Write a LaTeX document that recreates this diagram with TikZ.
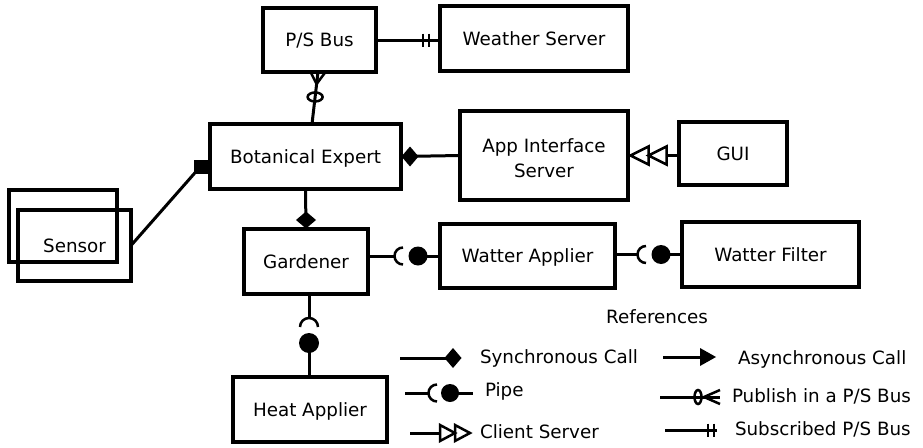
\documentclass[tikz,border=0pt]{standalone}
\usepackage{fontspec}
\setmainfont{DejaVu Sans}
\usetikzlibrary{calc}
\begin{document}
\begin{tikzpicture}[x=1pt,y=-1pt,
  box/.style={draw, line width=3.4pt, inner sep=0pt, outer sep=0pt, text height=13.4pt, text depth=0pt, font=\fontsize{18.3}{22}\selectfont},
  txt/.style={inner sep=0pt, outer sep=0pt, text height=13.4pt, text depth=0pt, font=\fontsize{18.3}{22}\selectfont},
  conn/.style={line width=3pt},
  sym/.style={line width=2.5pt},
  sdia/.pic={\fill (-8.5,0) -- (0,-10) -- (8.5,0) -- (0,10) -- cycle;},
  hollowtri/.pic={\draw[sym, fill=white] (0,0) -- (18,-9) -- (18,9) -- cycle;},
  bars/.pic={\draw[sym] (-3,-6.5) -- (-3,6.5) (3,-6.5) -- (3,6.5);}
]
\useasboundingbox (0,0) rectangle (923,447);

% ---------- boxes ----------
\node[box, minimum width=113pt, minimum height=64pt] (ps) at (319.5,40) {P/S Bus};
\node[box, minimum width=188pt, minimum height=65pt] (ws) at (534,38.5) {Weather Server};
\node[box, minimum width=191pt, minimum height=65pt] (be) at (305.5,156.5) {Botanical Expert};
\node[box, minimum width=168pt, minimum height=89pt] (ais) at (544,155.5) {};
\node[txt, anchor=base] (ais1) at (544,152) {App Interface};
\node[txt, anchor=base] (ais2) at (544,177) {Server};
\node[box, minimum width=108pt, minimum height=63pt] (gui) at (733,153.5) {GUI};
\node[box, minimum width=108pt, minimum height=72pt] (sen1) at (63,226) {};
\node[box, minimum width=113pt, minimum height=71pt] (sen2) at (74.5,245.5) {Sensor};
\node[box, minimum width=124pt, minimum height=65pt] (ga) at (306,261.5) {Gardener};
\node[box, minimum width=175pt, minimum height=64pt] (wa) at (527.5,256) {Watter Applier};
\node[box, minimum width=177pt, minimum height=65pt] (wf) at (770.5,254.5) {Watter Filter};
\node[box, minimum width=154pt, minimum height=65pt] (ha) at (310,409.5) {Heat Applier};

% ---------- P/S Bus -- Weather Server (subscribed) ----------
\coordinate (wsin) at (ps.east -| ws.west);
\draw[conn] (ps.east) -- (wsin);
\pic at ($(wsin)+(-14,0)$) {bars};

% ---------- Botanical Expert -- P/S Bus (publish) ----------
\coordinate (psb) at ($(ps.south)+(-1.5,0)$);
\coordinate (bet) at ($(be.north)+(6.5,0)$);
\draw[conn] (bet) -- (psb);
\coordinate (crow) at ($(psb)!0.23!(bet)$);
\draw[sym] ($(psb)+(-7.5,0)$) -- (crow) -- ($(psb)+(7.5,0)$);
\draw[sym] ($(psb)!0.48!(bet)$) ellipse [x radius=7.5, y radius=4.5];

% ---------- App Interface Server -- Botanical Expert (sync) ----------
\draw[conn] (ais.west) -- (be.east);
\pic at ($(be.east)+(9,0)$) {sdia};

% ---------- GUI -- App Interface Server (client/server) ----------
\coordinate (aise) at (ais.east);
\draw[conn] (gui.west |- aise) -- (aise);
\pic at ($(aise)+(2.5,0)$) {hollowtri};
\pic at ($(aise)+(20.5,0)$) {hollowtri};

% ---------- Sensor -- Botanical Expert ----------
\coordinate (sq) at ($(be.west)+(-9.5,10)$);
\draw[conn] (sen2.east) -- (sq);
\fill ($(sq)+(-7,-7)$) rectangle ($(sq)+(7,7)$);

% ---------- Botanical Expert -- Gardener (sync) ----------
\draw[conn] (be.south) -- (ga.north);
\pic[rotate=90] at ($(ga.north)+(0,-9)$) {sdia};

% ---------- Gardener -- Watter Applier (pipe) ----------
\coordinate (b1) at ($(wa.west)+(-22,0)$);
\coordinate (g1) at (ga.east |- wa.west);
\draw[conn] (g1) -- ($(b1)+(-23.5,0)$);
\draw[sym] ($(b1)+(-15,8.5)$) arc[start angle=90, end angle=270, radius=8.5];
\fill (b1) circle (9.5);
\draw[conn] (b1) -- (wa.west);

% ---------- Watter Applier -- Watter Filter (pipe) ----------
\coordinate (b2) at ($(wf.west)+(-21,0)$);
\coordinate (w1) at (wa.east |- wf.west);
\draw[conn] (w1) -- ($(b2)+(-23.5,0)$);
\draw[sym] ($(b2)+(-15,8.5)$) arc[start angle=90, end angle=270, radius=8.5];
\fill (b2) circle (9.5);
\draw[conn] (b2) -- (wf.west);

% ---------- Gardener -- Heat Applier (pipe) ----------
\coordinate (hb) at ($(ha.north)+(-1,-34)$);
\draw[conn] (hb |- ga.south) -- ($(hb)+(0,-25)$);
\draw[sym] ($(hb)+(-9,-16)$) arc[start angle=180, end angle=360, radius=9];
\fill (hb) circle (10);
\draw[conn] (hb) -- (hb |- ha.north);

% ---------- Legend ----------
\node[txt] (ref) at (657,317) {References};

\coordinate (l1a) at (400,358); \coordinate (l1b) at (453,358);
\draw[conn] (l1a) -- (l1b);
\pic at (l1b) {sdia};
\node[txt, anchor=west] (l1t) at (480,357) {Synchronous Call};

\coordinate (l2a) at (405,393); \coordinate (l2c) at (450,393); \coordinate (l2d) at (473,393);
\draw[conn] (l2a) -- ($(l2c)+(-21.5,0)$);
\draw[sym] ($(l2c)+(-13,8.5)$) arc[start angle=90, end angle=270, radius=8.5];
\fill (l2c) circle (9);
\draw[conn] (l2c) -- (l2d);
\node[txt, anchor=west] (l2t) at (485,390) {Pipe};

\coordinate (l3a) at (410,433); \coordinate (l3b) at (470,433);
\draw[conn] (l3a) -- ($(l3b)+(-30,0)$);
\draw[sym, fill=white] (l3b) -- ($(l3b)+(-15,-8)$) -- ($(l3b)+(-15,8)$) -- cycle;
\draw[sym, fill=white] ($(l3b)+(-15,0)$) -- ($(l3b)+(-30,-8)$) -- ($(l3b)+(-30,8)$) -- cycle;
\node[txt, anchor=west] (l3t) at (480,432) {Client Server};

\coordinate (r1a) at (663,357); \coordinate (r1b) at (716,357);
\draw[conn] (r1a) -- ($(r1b)+(-10,0)$);
\fill (r1b) -- ($(r1b)+(-16,-9)$) -- ($(r1b)+(-16,9)$) -- cycle;
\node[txt, anchor=west] (r1t) at (738,358) {Asynchronous Call};

\coordinate (r2a) at (660,397); \coordinate (r2b) at (720,397);
\draw[conn] (r2a) -- (r2b);
\draw[sym] ($(r2b)+(0,-7)$) -- ($(r2b)+(-16,0)$) -- ($(r2b)+(0,7)$);
\draw[sym] ($(r2b)+(-22,0)$) ellipse [x radius=3.5, y radius=7];
\node[txt, anchor=west] (r2t) at (732,396) {Publish in a P/S Bus};

\coordinate (r3a) at (665,430); \coordinate (r3b) at (717,430);
\draw[conn] (r3a) -- (r3b);
\pic at ($(r3b)+(-6,0)$) {bars};
\node[txt, anchor=west] (r3t) at (735,429) {Subscribed P/S Bus};
\end{tikzpicture}
\end{document}
